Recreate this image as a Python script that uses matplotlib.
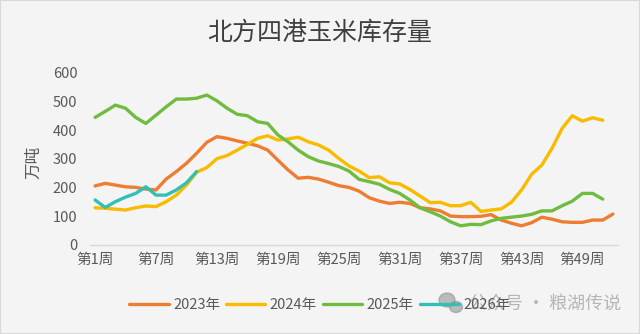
import matplotlib
matplotlib.use("Agg")
import matplotlib.pyplot as plt
from matplotlib.patches import Rectangle, Ellipse

plt.rcParams['font.family'] = ['Noto Sans CJK SC', 'DejaVu Sans']

title = "北方四港玉米库存量"
y_label = "万吨"

weeks = list(range(1, 53))
tick_weeks = [1, 7, 13, 19, 25, 31, 37, 43, 49]
tick_labels = ["第1周", "第7周", "第13周", "第19周", "第25周",
               "第31周", "第37周", "第43周", "第49周"]

y2023 = [206, 215, 209, 203, 201, 195, 192, 230, 256, 285, 320, 358, 378,
         372, 363, 355, 346, 331, 296, 262, 233, 236, 230, 219, 207, 201,
         188, 165, 153, 145, 149, 145, 130, 126, 119, 101, 99, 99, 100,
         106, 87, 76, 67, 78, 97, 90, 81, 79, 79, 87, 87, 108]
y2024 = [130, 128, 125, 122, 130, 136, 134, 151, 174, 209, 254, 270, 301,
         312, 331, 351, 372, 381, 366, 370, 376, 360, 349, 331, 302, 276,
         258, 235, 238, 217, 213, 194, 171, 148, 149, 137, 137, 149, 117,
         122, 126, 149, 192, 247, 279, 337, 407, 451, 432, 444, 435]
y2025 = [445, 466, 488, 477, 445, 424, 453, 482, 509, 509, 512, 523, 503,
         477, 456, 451, 430, 424, 384, 360, 331, 308, 293, 284, 274, 258,
         229, 221, 212, 194, 180, 157, 130, 116, 101, 81, 67, 72, 71,
         84, 93, 97, 101, 107, 119, 119, 137, 153, 180, 180, 160]
y2026 = [157, 131, 151, 167, 180, 203, 174, 174, 192, 217, 256]

series = [
    ("2023年", y2023, "#ED7D31"),
    ("2024年", y2024, "#F7BC00"),
    ("2025年", y2025, "#6FBC3E"),
    ("2026年", y2026, "#33BFB5"),
]

W, H = 640, 334
bg = "#F4F4F4"
fig = plt.figure(figsize=(W / 100, H / 100), dpi=100, facecolor=bg)
ax = fig.add_axes([90 / W, 1 - 245 / H, (618 - 90) / W, (245 - 73) / H])
ax.set_facecolor(bg)

for name, vals, col in series:
    ax.plot(weeks[:len(vals)], vals, color=col, lw=2.4, label=name,
            solid_joinstyle="round", solid_capstyle="round")

ax.set_xlim(0.5, 52.5)
ax.set_ylim(0, 600)
ax.set_yticks([0, 100, 200, 300, 400, 500, 600])
ax.set_xticks(tick_weeks)
ax.set_xticklabels(tick_labels)
ax.tick_params(axis="both", length=0, labelsize=10.5, colors="#595959")
ax.tick_params(axis="x", pad=6)
ax.tick_params(axis="y", pad=9)
for s in ["top", "right", "left"]:
    ax.spines[s].set_visible(False)
ax.spines["bottom"].set_color("#D9D9D9")
ax.spines["bottom"].set_linewidth(1.0)

fig.text(0.5, 1 - 33 / H, title, ha="center", va="center",
         fontsize=18, color="#404040")
fig.text(34 / W, 1 - 162 / H, y_label, ha="center", va="center",
         rotation=90, fontsize=12, color="#595959")

fig.legend(loc="center", bbox_to_anchor=(0.5, 1 - 305 / H), ncol=4,
           frameon=False, fontsize=10.5, handlelength=2.7,
           handletextpad=0.3, columnspacing=0.4, labelcolor="#595959")

# watermark
wm = "#8C8C8C"
fig.patches.append(Ellipse((447 / W, 1 - 300 / H), 16 / W, 14 / H,
                           transform=fig.transFigure, color=wm, alpha=0.55))
fig.patches.append(Ellipse((456 / W, 1 - 307 / H), 13 / W, 11 / H,
                           transform=fig.transFigure, color=wm, alpha=0.55))
fig.text(469 / W, 1 - 305 / H, "公众号 · 粮湖传说", ha="left", va="center",
         fontsize=13, color=wm, alpha=0.6)

fig.patches.append(Rectangle((0, 0), 1, 1, transform=fig.transFigure,
                             fill=False, edgecolor="#D9D9D9", lw=1.5))

fig.savefig("out.png", dpi=100, facecolor=bg)
